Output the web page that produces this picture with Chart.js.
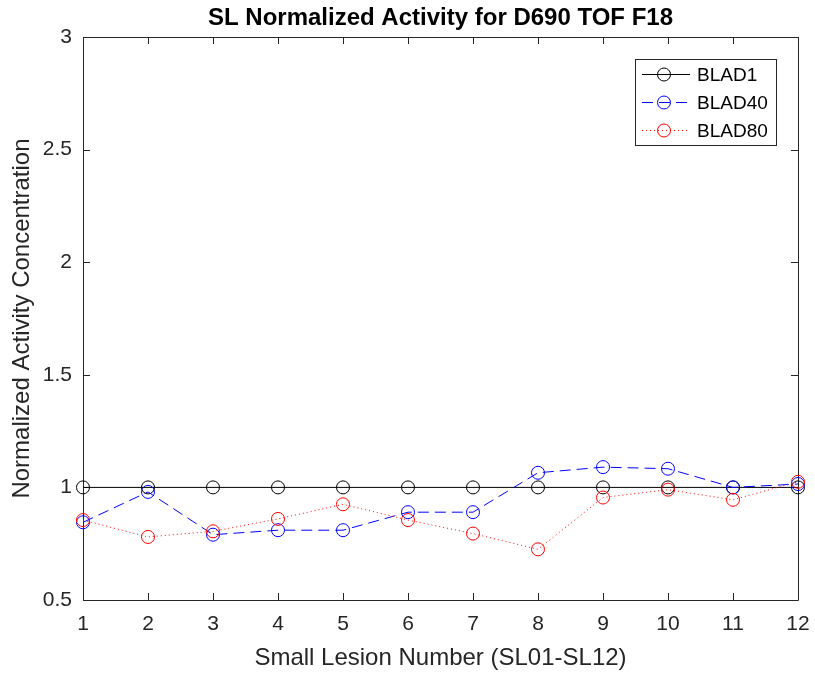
<!DOCTYPE html>
<html>
<head>
<meta charset="utf-8">
<script src="https://cdn.jsdelivr.net/npm/chart.js@4.4.1/dist/chart.umd.min.js"></script>
<style>
  html, body { margin: 0; padding: 0; background: #fff; }
  #wrap { width: 815px; height: 675px; position: relative; }
</style>
</head>
<body>
<div id="wrap"><canvas id="slChart"></canvas></div>
<script>
// --- data ---
const categories = ['1', '2', '3', '4', '5', '6', '7', '8', '9', '10', '11', '12'];
const blad1 = [1, 1, 1, 1, 1, 1, 1, 1, 1, 1, 1, 1];
const blad40 = [0.845, 0.98, 0.79, 0.81, 0.81, 0.89, 0.89, 1.065, 1.09, 1.083, 1.0, 1.015];
const blad80 = [0.855, 0.78, 0.805, 0.86, 0.925, 0.855, 0.795, 0.725, 0.955, 0.99, 0.945, 1.025];
const yTicks = [0.5, 1, 1.5, 2, 2.5, 3];
const yTickLabels = ['0.5', '1', '1.5', '2', '2.5', '3'];

const FONT = "'Liberation Sans', Arial, sans-serif";
const AXIS_COLOR = '#262626';
const TITLE = 'SL Normalized Activity for D690 TOF F18';

// frame box with inward ticks on all four sides (matlab style), plus title and legend
const matlabFrame = {
    id: 'matlabFrame',
    beforeDatasetsDraw(chart) {
        const { ctx, chartArea: a, scales } = chart;
        const tl = 7;
        ctx.save();
        ctx.strokeStyle = AXIS_COLOR;
        ctx.lineWidth = 1;
        ctx.beginPath();
        ctx.rect(Math.round(a.left) + 0.5, Math.round(a.top) + 0.5,
                 Math.round(a.right - a.left), Math.round(a.bottom - a.top));
        scales.x.ticks.forEach((t, i) => {
            const px = Math.round(scales.x.getPixelForTick(i)) + 0.5;
            ctx.moveTo(px, a.bottom); ctx.lineTo(px, a.bottom - tl);
            ctx.moveTo(px, a.top); ctx.lineTo(px, a.top + tl);
        });
        yTicks.forEach(v => {
            const py = Math.round(scales.y.getPixelForValue(v)) + 0.5;
            ctx.moveTo(a.left, py); ctx.lineTo(a.left + tl, py);
            ctx.moveTo(a.right, py); ctx.lineTo(a.right - tl, py);
        });
        ctx.stroke();
        ctx.restore();
    },
    afterDatasetsDraw(chart) {
        const { ctx, chartArea: a } = chart;
        ctx.save();
        // title
        ctx.fillStyle = '#000';
        ctx.font = 'bold 24px ' + FONT;
        ctx.textAlign = 'center';
        ctx.textBaseline = 'middle';
        ctx.fillText(TITLE, (a.left + a.right) / 2, 18);

        // legend box
        const bx = 635.5, by = 59.5, bw = 141, bh = 86;
        ctx.fillStyle = '#fff';
        ctx.fillRect(bx, by, bw, bh);
        ctx.strokeStyle = AXIS_COLOR;
        ctx.lineWidth = 1;
        ctx.strokeRect(bx, by, bw, bh);
        ctx.font = '19px ' + FONT;
        ctx.textAlign = 'left';
        chart.data.datasets.forEach((ds, i) => {
            const y = 74.5 + i * 28;
            ctx.strokeStyle = ds.borderColor;
            ctx.setLineDash(ds.borderDash || []);
            ctx.beginPath();
            ctx.moveTo(642, y); ctx.lineTo(690, y);
            ctx.stroke();
            ctx.setLineDash([]);
            ctx.beginPath();
            ctx.arc(664, y, 6.5, 0, Math.PI * 2);
            ctx.stroke();
            ctx.fillStyle = '#000';
            ctx.fillText(ds.label, 697, y + 1);
        });
        ctx.restore();
    }
};

function series(label, values, color, dash, order) {
    return {
        label: label,
        data: values,
        borderColor: color,
        borderWidth: 1,
        borderDash: dash,
        pointStyle: 'circle',
        pointRadius: 6.5,
        pointBorderWidth: 1,
        pointBorderColor: color,
        pointBackgroundColor: 'rgba(0,0,0,0)',
        fill: false,
        tension: 0,
        clip: false,
        order: order
    };
}

new Chart(document.getElementById('slChart'), {
    type: 'line',
    data: {
        labels: categories,
        datasets: [
            series('BLAD1', blad1, '#000000', [], 3),
            series('BLAD40', blad40, '#0000ff', [11, 6], 2),
            series('BLAD80', blad80, '#ff0000', [1, 3], 1)
        ]
    },
    options: {
        responsive: true,
        maintainAspectRatio: false,
        animation: false,
        events: [],
        layout: { padding: { top: 37, right: 17, bottom: 0, left: 0 } },
        plugins: { legend: { display: false }, title: { display: false }, tooltip: { enabled: false } },
        scales: {
            x: {
                type: 'category',
                offset: false,
                grid: { display: false, drawTicks: false },
                border: { display: false },
                ticks: { color: AXIS_COLOR, font: { family: FONT, size: 21 }, padding: 12, maxRotation: 0, autoSkip: false },
                title: { display: true, text: 'Small Lesion Number (SL01-SL12)', color: AXIS_COLOR,
                         font: { family: FONT, size: 24 }, padding: { top: 0, bottom: 2 } },
                afterFit(scale) {
                    scale.height = 75;
                    scale.paddingLeft = 0;
                    scale.paddingRight = 0;
                }
            },
            y: {
                min: 0.5,
                max: 3,
                grid: { display: false, drawTicks: false },
                border: { display: false },
                afterBuildTicks(scale) { scale.ticks = yTicks.map(v => ({ value: v })); },
                ticks: {
                    color: AXIS_COLOR, font: { family: FONT, size: 21 }, padding: 11,
                    callback: (value) => yTickLabels[yTicks.indexOf(value)]
                },
                title: { display: true, text: 'Normalized Activity Concentration', color: AXIS_COLOR,
                         font: { family: FONT, size: 24 }, padding: { top: 8, bottom: 0 } },
                afterFit(scale) {
                    scale.width = 83;
                    scale.paddingTop = 0;
                    scale.paddingBottom = 0;
                }
            }
        }
    },
    plugins: [matlabFrame]
});
</script>
</body>
</html>
